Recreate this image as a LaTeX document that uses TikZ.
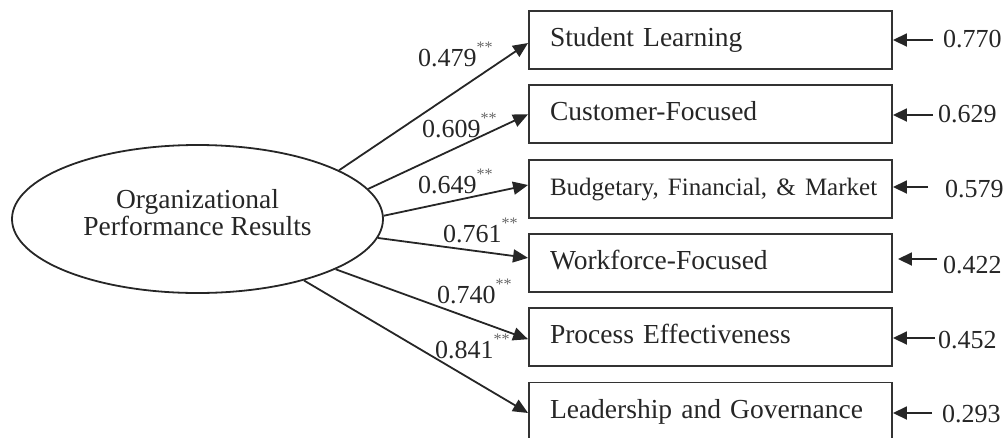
\documentclass[tikz,border=0pt]{standalone}
\usepackage{fontspec}
\setmainfont{Liberation Serif}
\usetikzlibrary{arrows.meta,shapes.geometric,calc}
\newcommand\sigstars{\raisebox{14pt}{\fontsize{16}{16}\selectfont\color{black!60}**}}
\begin{document}
\begin{tikzpicture}[x=1pt,y=-1pt,
  latent/.style={ellipse, draw=black!85, line width=1.8pt, minimum width=371pt, minimum height=148pt,
    inner sep=0pt, align=center, font=\fontsize{27.5}{27}\selectfont, text=black!85, text depth=14pt},
  ind/.style={rectangle, draw=black!80, line width=1.9pt, text width=321pt, inner xsep=21pt, inner ysep=0pt,
    minimum height=58pt, align=left, font=\fontsize{27.5}{30}\selectfont, text=black!85,
    text height=19pt, text depth=6pt},
  load/.style={draw=black!85, line width=1.8pt, -{Triangle[length=15pt,width=13pt]}},
  err/.style={draw=black!85, line width=1.8pt, -{Triangle[length=14pt,width=13pt]}},
  coef/.style={inner sep=0pt, anchor=base west, font=\fontsize{26}{26}\selectfont, text=black!85},
  errval/.style={inner sep=0pt, anchor=base west, font=\fontsize{26}{26}\selectfont, text=black!85}
]
\useasboundingbox (0,0) rectangle (1007,437);

\node[latent] (E) at (197.5,219) {Organizational\\Performance Results};

\node[ind] (b1) at (710.5,40) {Student Learning};
\node[ind] (b2) at (710.5,114.3) {Customer-Focused};
\node[ind] (b3) at (710.5,188.6) {\fontsize{25}{28}\selectfont\mbox{Budgetary, Financial, \& Market}};
\node[ind] (b4) at (710.5,262.9) {Workforce-Focused};
\node[ind] (b5) at (710.5,337.2) {Process Effectiveness};
\node[ind] (b6) at (710.5,411.5) {Leadership and Governance};

\draw[load] (E.19) -- ([yshift=-3pt]b1.west);
\draw[load] (E.10.4) -- (b2.west);
\draw[load] (E.1.9) -- ([yshift=3.6pt]b3.west);
\draw[load] (E.-6.75) -- ([yshift=5pt]b4.west);
\draw[load] (E.-20.3) -- ([yshift=-2pt]b5.west);
\draw[load] (E.-30.8) -- ([yshift=-1.5pt]b6.west);

\node[coef] (c1) at (418,66) {0.479\sigstars};
\node[coef] (c2) at (422,137) {0.609\sigstars};
\node[coef] (c3) at (418,193) {0.649\sigstars};
\node[coef] (c4) at (443,242) {0.761\sigstars};
\node[coef] (c5) at (437,303) {0.740\sigstars};
\node[coef] (c6) at (435,358) {0.841\sigstars};

\coordinate (r1) at (933,40);
\coordinate (r2) at (933,115);
\coordinate (r3) at (928,187);
\coordinate (r4) at (937,259);
\coordinate (r5) at (935,338);
\coordinate (r6) at (932,413);
\draw[err] (r1) -- (r1 -| b1.east);
\draw[err] (r2) -- (r2 -| b2.east);
\draw[err] (r3) -- (r3 -| b3.east);
\draw[err] (r4) -- ([xshift=5pt]r4 -| b4.east);
\draw[err] (r5) -- (r5 -| b5.east);
\draw[err] (r6) -- (r6 -| b6.east);

\node[errval] (e1) at (943,47) {0.770};
\node[errval] (e2) at (938,122) {0.629};
\node[errval] (e3) at (945,197) {0.579};
\node[errval] (e4) at (943,273) {0.422};
\node[errval] (e5) at (938,348) {0.452};
\node[errval] (e6) at (942,422) {0.293};
\end{tikzpicture}
\end{document}
